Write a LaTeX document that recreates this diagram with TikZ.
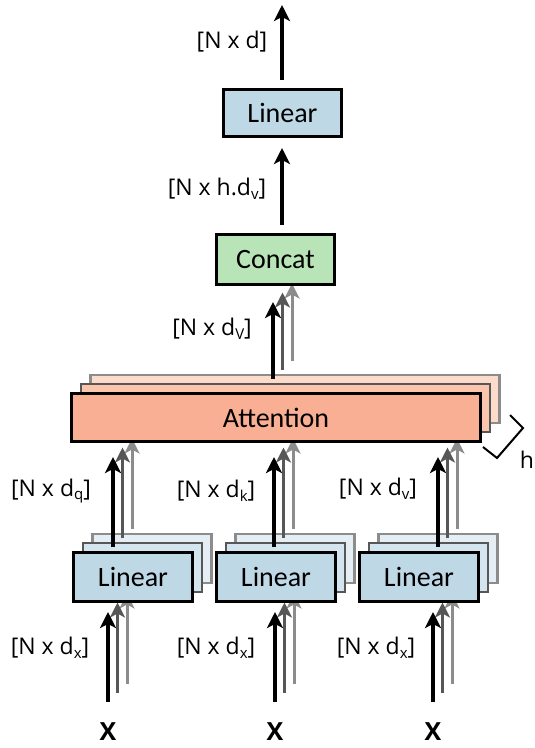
\documentclass[tikz,border=0pt]{standalone}
\usepackage{fontspec}
\setmainfont{Open Sans}
\newfontfamily\boxfont{Carlito}
\usetikzlibrary{arrows.meta,calc}
\definecolor{linfill}{HTML}{BFD8E6}
\definecolor{linfillB}{HTML}{D5E5EF}
\definecolor{linfillC}{HTML}{E4EEF4}
\definecolor{attfill}{HTML}{F9AF93}
\definecolor{attfillB}{HTML}{FBC4AD}
\definecolor{attfillC}{HTML}{FDDBCB}
\definecolor{catfill}{HTML}{B9E4B7}
\definecolor{grayB}{HTML}{575757}
\definecolor{grayC}{HTML}{8C8C8C}
\newcommand\sbs[1]{\raisebox{-0.15em}{\fontsize{15}{15}\selectfont #1}}
\begin{document}
\begin{tikzpicture}[x=1pt,y=-1pt,
  front/.style={draw=black, line width=3pt, inner sep=0pt,
    font=\boxfont\fontsize{28}{30}\selectfont},
  layB/.style={draw=grayB, line width=2.5pt, inner sep=0pt},
  layC/.style={draw=grayC, line width=2.5pt, inner sep=0pt},
  linsz/.style={minimum width=119pt, minimum height=49pt},
  attsz/.style={minimum width=409pt, minimum height=48pt},
  arrA/.style={draw=black, line width=4pt, -{Stealth[length=16pt,width=16pt,inset=4pt]}},
  arrB/.style={draw=grayB, line width=3pt, -{Stealth[length=15pt,width=15pt,inset=4pt]}},
  arrC/.style={draw=grayC, line width=3pt, -{Stealth[length=15pt,width=15pt,inset=4pt]}},
  lbl/.style={inner sep=0pt, font=\fontsize{23}{25}\selectfont},
  xl/.style={inner sep=0pt, font=\fontsize{25}{27}\selectfont\bfseries}
]
\useasboundingbox (0,0) rectangle (535,748);

% ---- back layers ----
\node[layC, fill=attfillC, attsz] (attC) at (295,399) {};
\node[layB, fill=attfillB, attsz] (attB) at (285.5,408) {};
\foreach \n/\x in {1/133,2/276,3/419}{
  \node[layC, fill=linfillC, linsz] (lin\n C) at (\x+19,558.5) {};
  \node[layB, fill=linfillB, linsz] (lin\n B) at (\x+9.5,567.5) {};
}

% ---- arrow end points ----
\coordinate (in1s) at (108,702); \coordinate (in1t) at (108,612);
\coordinate (in2s) at (275,702); \coordinate (in2t) at (275,612);
\coordinate (in3s) at (433,702); \coordinate (in3t) at (433,612);
\coordinate (md1s) at (113,547); \coordinate (md1t) at (113,457);
\coordinate (md2s) at (274,547); \coordinate (md2t) at (274,457);
\coordinate (md3s) at (438,547); \coordinate (md3t) at (438,457);
\coordinate (ups) at (273,379); \coordinate (upt) at (273,302);
\coordinate (c2s) at (282,225); \coordinate (c2t) at (282,148);
\coordinate (tops) at (282,80); \coordinate (topt) at (282,5);

\foreach \p in {in1,in2,in3,md1,md2,md3,up}{
  \draw[arrC] ($(\p s)+(19,-18.5)$) -- ($(\p t)+(19,-18.5)$);
  \draw[arrB] ($(\p s)+(9.5,-9.5)$) -- ($(\p t)+(9.5,-9.5)$);
  \draw[arrA] (\p s) -- (\p t);
}
\draw[arrA] (c2s) -- (c2t);
\draw[arrA] (tops) -- (topt);

% ---- front boxes ----
\node[front, fill=attfill, attsz] (att) at (276,417.5) {Attention};
\node[front, fill=linfill, linsz] (lin1) at (133,577) {Linear};
\node[front, fill=linfill, linsz] (lin2) at (276,577) {Linear};
\node[front, fill=linfill, linsz] (lin3) at (419,577) {Linear};
\node[front, fill=catfill, minimum width=118pt, minimum height=50pt] (cat) at (275.5,259.5) {Concat};
\node[front, fill=linfill, minimum width=118pt, minimum height=47pt] (lintop) at (282.5,113) {Linear};

% ---- h bracket ----
\draw[line width=2pt] (510,415) -- (523,428) -- (497,458) -- (483,447);
\node[lbl] (hl) at (527,460) {h};

% ---- labels ----
\node[lbl] (ld) at (232,42) {[N x d]};
\node[lbl] (lhd) at (217,189) {[N x h.d\sbs{v}]};
\node[lbl] (ldV) at (212,329) {[N x d\sbs{V}]};
\node[lbl] (ldq) at (51,491) {[N x d\sbs{q}]};
\node[lbl] (ldk) at (216,491) {[N x d\sbs{k}]};
\node[lbl] (ldv) at (378,489) {[N x d\sbs{v}]};
\node[lbl] (lx1) at (50,648) {[N x d\sbs{x}]};
\node[lbl] (lx2) at (216,648) {[N x d\sbs{x}]};
\node[lbl] (lx3) at (376,648) {[N x d\sbs{x}]};
\node[xl] (x1) at (108,732) {X};
\node[xl] (x2) at (275,732) {X};
\node[xl] (x3) at (433,732) {X};
\end{tikzpicture}
\end{document}
